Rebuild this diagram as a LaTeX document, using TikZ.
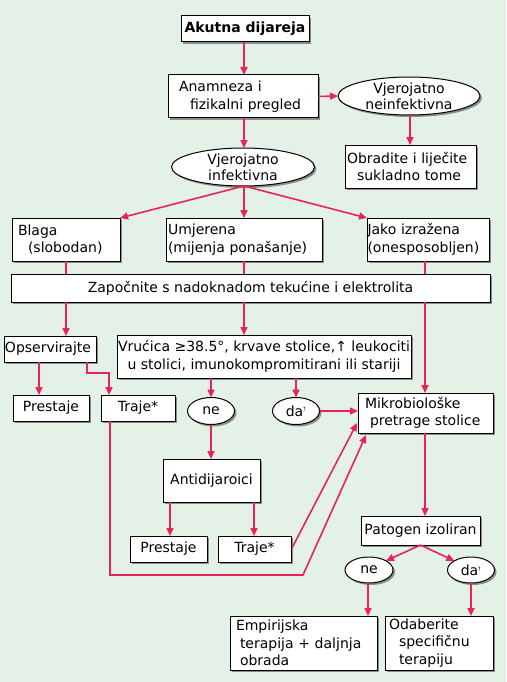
\documentclass[tikz,border=0pt]{standalone}
\usepackage{fontspec}
\setmainfont{DejaVu Sans}
\usetikzlibrary{arrows.meta,shapes.geometric,shadows,calc}
\definecolor{bg}{HTML}{E3F1E6}
\definecolor{arr}{HTML}{E8245A}
\begin{document}
\begin{tikzpicture}[x=1pt,y=-1pt,
  every node/.style={font=\fontsize{14}{17.5}\selectfont},
  shad/.style={drop shadow={shadow xshift=2pt,shadow yshift=-2pt,fill=black!45,opacity=1}},
  box/.style={draw=black,fill=white,line width=1pt,shad,anchor=north west,inner sep=0pt,outer sep=0pt},
  oval/.style={ellipse,draw=black,fill=white,line width=1pt,shad,inner sep=0pt,outer sep=0pt,align=center,font=\fontsize{14}{16}\selectfont},
  link/.style={draw=arr,line width=1.6pt},
  arrow/.style={link,-{Triangle[length=8pt,width=7pt]}}
]
\fill[bg] (0,0) rectangle (506,682);
\useasboundingbox (0,0) rectangle (506,682);

\node[box,minimum width=128,minimum height=26,align=center,font=\fontsize{14}{17.5}\selectfont\bfseries] (akutna) at (181,16) {Akutna dijareja};
\node[box,minimum width=150,minimum height=43,text width=128,align=left,inner xsep=11pt] (anam) at (168,75) {Anamneza i\\\hspace*{11pt}fizikalni pregled};
\node[oval,minimum width=142,minimum height=33] (neinf) at (409,96) {Vjerojatno\\neinfektivna};
\node[box,minimum width=131,minimum height=43,text width=127,align=left,inner xsep=2pt] (obrad) at (345,145) {Obradite i liječite\\\hspace*{10pt}sukladno tome};
\node[oval,minimum width=143,minimum height=34] (inf) at (243,167) {Vjerojatno\\infektivna};

\node[box,minimum width=108,minimum height=43,text width=96,align=left,inner xsep=6pt] (blaga) at (12,218) {Blaga\\\hspace*{10pt}(slobodan)};
\node[box,minimum width=156,minimum height=43,text width=152,align=left,inner xsep=2pt] (umj) at (166,218) {Umjerena\\(mijenja ponašanje)};
\node[box,minimum width=122,minimum height=43,text width=121,align=left,inner xsep=0.5pt] (jako) at (367,218) {Jako izražena\\(onesposobljen)};

\node[box,minimum width=479,minimum height=28,align=center] (zap) at (11,274) {Započnite s nadoknadom tekućine i elektrolita};

\node[box,minimum width=92,minimum height=26,text width=90,align=left,inner xsep=1pt] (ops) at (4,336) {Opservirajte};
\node[box,minimum width=294,minimum height=43,align=center] (vruc) at (117,335) {Vrućica ≥38.5°, krvave stolice,↑ leukociti\\u stolici, imunokompromitirani ili stariji};

\node[box,minimum width=76,minimum height=26,align=center] (pre1) at (13,395) {Prestaje};
\node[box,minimum width=74,minimum height=26,align=center] (tr1) at (101,395) {Traje*};
\node[oval,minimum width=47,minimum height=27] (ne1) at (211,411) {ne};
\node[oval,minimum width=47,minimum height=27] (da1) at (296,411) {da\textsuperscript{\tiny †}};
\node[box,minimum width=135,minimum height=40,text width=121,align=left,inner xsep=7pt] (mikro) at (358,393) {Mikrobiološke\\\hspace*{5pt}pretrage stolice};

\node[box,minimum width=97,minimum height=43,align=center] (anti) at (163,459) {Antidijaroici};
\node[box,minimum width=77,minimum height=26,align=center] (pre2) at (130,536) {Prestaje};
\node[box,minimum width=73,minimum height=26,align=center] (tr2) at (218,536) {Traje*};

\node[box,minimum width=119,minimum height=29,align=center] (pat) at (361,516) {Patogen izoliran};
\node[oval,minimum width=48,minimum height=26] (ne2) at (369,570) {ne};
\node[oval,minimum width=47,minimum height=26] (da2) at (471,570) {da\textsuperscript{\tiny †}};

\node[box,minimum width=147,minimum height=54,text width=135,align=left,inner xsep=6pt,font=\fontsize{14}{17.5}\selectfont] (emp) at (230,616) {Empirijska\\\hspace*{4pt}terapija + daljnja\\\hspace*{4pt}obrada};
\node[box,minimum width=108,minimum height=54,text width=100,align=left,inner xsep=4pt,font=\fontsize{14}{17.5}\selectfont] (oda) at (385,616) {Odaberite\\\hspace*{10pt}specifičnu\\\hspace*{10pt}terapiju};

% x positions
\coordinate (xa) at (66,0);
\coordinate (xb) at (244,0);
\coordinate (xc) at (425,0);
\coordinate (xd) at (39,0);
\coordinate (xe) at (170,0);
\coordinate (xf) at (254,0);
\coordinate (xg) at (296,0);
\coordinate (xh) at (211,0);
\coordinate (xi) at (368,0);
\coordinate (xj) at (471,0);
\coordinate (xk) at (410,0);
\coordinate (c1) at (87,373);
\coordinate (c2) at (109,373);
\coordinate (c3) at (110,575);
\coordinate (c4) at (303,575);
\coordinate (m1) at (357,423);
\coordinate (m2) at (366,435);
\coordinate (p1) at (292,548);

% connectors
\draw[arrow] (xb |- akutna.south) -- (xb |- anam.north);
\draw[arrow] (anam.east) -- (neinf.west);
\draw[arrow] (xk |- neinf.south) -- (xk |- obrad.north);
\draw[arrow] (xb |- anam.south) -- (xb |- inf.north);
\draw[arrow] (xb |- inf.south) -- (blaga.north east);
\draw[arrow] (xb |- inf.south) -- (xb |- umj.north);
\draw[arrow] (xb |- inf.south) -- (jako.north west);

\draw[link] (xa |- blaga.south) -- (xa |- zap.north);
\draw[link] (xb |- umj.south) -- (xb |- zap.north);
\draw[link] (xc |- jako.south) -- (xc |- zap.north);

\draw[arrow] (xa |- zap.south) -- (xa |- ops.north);
\draw[arrow] (xb |- zap.south) -- (xb |- vruc.north);
\draw[arrow] (xc |- zap.south) -- (xc |- mikro.north);

\draw[arrow] (xd |- ops.south) -- (xd |- pre1.north);
\draw[arrow] (c1 |- ops.south) -- (c1) -- (c2) -- (c2 |- tr1.north);

\draw[arrow] (xh |- vruc.south) -- (xh |- ne1.north);
\draw[arrow] (xg |- vruc.south) -- (xg |- da1.north);
\draw[arrow] (da1.east) -- (da1.east -| mikro.west);

\draw[arrow] (xh |- ne1.south) -- (xh |- anti.north);
\draw[arrow] (xe |- anti.south) -- (xe |- pre2.north);
\draw[arrow] (xf |- anti.south) -- (xf |- tr2.north);

\draw[arrow] (p1) -- (m1);
\draw[arrow] (c3 |- tr1.south) -- (c3) -- (c4) -- (m2);

\draw[arrow] (xc |- mikro.south) -- (xc |- pat.north);
\draw[arrow] (pat.south) -- (ne2.north east);
\draw[arrow] (pat.south) -- (da2.north west);
\draw[arrow] (xi |- ne2.south) -- (xi |- emp.north);
\draw[arrow] (xj |- da2.south) -- (xj |- oda.north);
\end{tikzpicture}
\end{document}
